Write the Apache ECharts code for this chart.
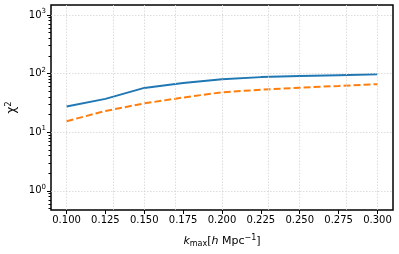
<!DOCTYPE html>
<html><head><meta charset="utf-8">
<script src="https://cdn.jsdelivr.net/npm/echarts@6/dist/echarts.min.js"></script>
<style>html,body{margin:0;padding:0;background:#fff}#c{width:399px;height:254px}</style>
</head><body><div id="c"></div>
<script>
const kmax = [0.100, 0.125, 0.150, 0.175, 0.200, 0.225, 0.250, 0.275, 0.300];
const chi2Solid = [27.4, 37, 57, 69, 80, 87, 91, 94, 97];
const chi2Dashed = [15.4, 23, 31, 39, 48, 53, 57.5, 61.5, 66];
const xTicks = [0.100, 0.125, 0.150, 0.175, 0.200, 0.225, 0.250, 0.275, 0.300];
const yTicks = [1, 10, 100, 1000];
const yExp = {1: '0', 10: '1', 100: '2', 1000: '3'};
const yMinor = [];
[0.1, 1, 10, 100].forEach(d => { for (let m = 2; m <= 9; m++) { const v = +(m * d).toPrecision(3); if (v >= 0.47 && v <= 1480) yMinor.push(v); } });

const font = 'DejaVu Sans';
const gridStyle = { color: '#d4d4d4', type: [1.5, 1.5], width: 0.8 };
const chart = echarts.init(document.getElementById('c'));
const yBase = { type: 'log', logBase: 10, min: 0.47, max: 1480 };
chart.setOption({
  animation: false,
  grid: { left: 51, right: 6, top: 5, bottom: 44, outerBoundsMode: 'none', containLabel: false, show: true, borderColor: '#000', borderWidth: 1.5, backgroundColor: 'transparent' },
  xAxis: {
    type: 'value', min: 0.09, max: 0.31,
    axisLine: { show: false },
    axisTick: { show: true, length: 4, lineStyle: { color: '#000', width: 1 }, customValues: xTicks },
    axisLabel: { customValues: xTicks, formatter: v => v.toFixed(3), fontFamily: font, fontSize: 10, color: '#000', margin: 5 },
    splitLine: { show: false },
    name: '{i|k}{sub|max}{n|[}{i|h}{n| Mpc}{sup|−1}{n|]}',
    nameLocation: 'middle', nameGap: 24,
    nameTextStyle: {
      fontFamily: font, fontSize: 11, color: '#000',
      rich: {
        i: { fontFamily: font, fontSize: 11, fontStyle: 'italic', color: '#000' },
        n: { fontFamily: font, fontSize: 11, color: '#000' },
        sub: { fontFamily: font, fontSize: 8, color: '#000', verticalAlign: 'bottom', padding: [6, 0, 0, 0] },
        sup: { fontFamily: font, fontSize: 8, color: '#000', verticalAlign: 'top', padding: [0, 0, 6, 0] }
      }
    }
  },
  yAxis: [
    Object.assign({}, yBase, {
      axisLine: { show: false },
      axisTick: { show: true, length: 4, customValues: yTicks, lineStyle: { color: '#000', width: 1 } },
      axisLabel: {
        customValues: yTicks, fontFamily: font, fontSize: 10, color: '#000', margin: 5,
        formatter: v => '10{s|' + yExp[Math.round(v)] + '}',
        rich: { s: { fontFamily: font, fontSize: 7, color: '#000', verticalAlign: 'top', padding: [0, 0, 7, 0] } }
      },
      splitLine: { show: false },
      name: '{n|χ}{s|2}', nameLocation: 'middle', nameGap: 30, nameRotate: 90,
      nameTextStyle: { rich: {
        n: { fontFamily: font, fontSize: 12, color: '#000' },
        s: { fontFamily: font, fontSize: 8, color: '#000', verticalAlign: 'top', padding: [0, 0, 6, 0] }
      } }
    }),
    Object.assign({}, yBase, {
      position: 'left', offset: 0,
      axisLine: { show: false },
      axisTick: { show: true, length: 2.5, customValues: yMinor, lineStyle: { color: '#000', width: 1 } },
      axisLabel: { show: false },
      splitLine: { show: false }
    })
  ],
  series: [
    {
      type: 'line', data: [], silent: true,
      markLine: {
        silent: true, symbol: 'none', label: { show: false }, animation: false,
        lineStyle: gridStyle, emphasis: { disabled: true },
        data: xTicks.map(v => ({ xAxis: v })).concat(yTicks.map(v => ({ yAxis: v })))
      }
    },
    { type: 'line', data: kmax.map((k, i) => [k, chi2Solid[i]]), showSymbol: false, lineStyle: { color: '#1f77b4', width: 2 }, itemStyle: { color: '#1f77b4' } },
    { type: 'line', data: kmax.map((k, i) => [k, chi2Dashed[i]]), showSymbol: false, lineStyle: { color: '#ff7f0e', width: 2, type: [7, 3] }, itemStyle: { color: '#ff7f0e' } }
  ]
});
</script></body></html>
